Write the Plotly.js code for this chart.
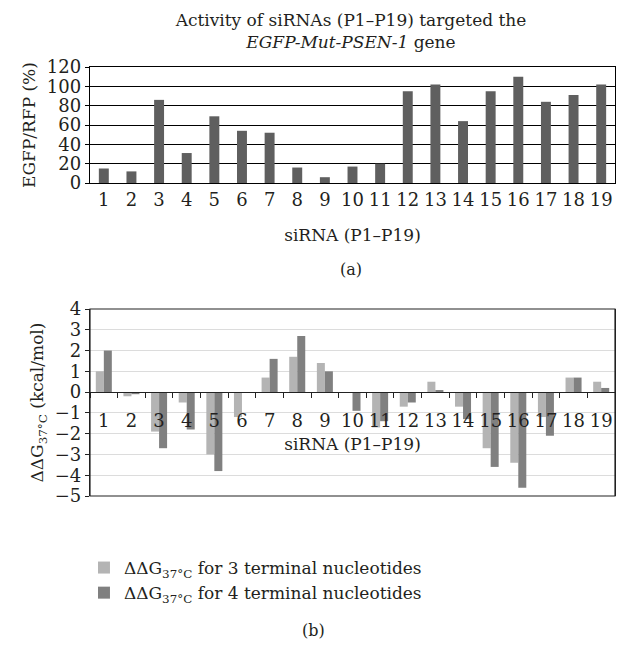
<!DOCTYPE html>
<html>
<head>
<meta charset="utf-8">
<script src="https://cdn.plot.ly/plotly-3.0.1.min.js"></script>
<style>html,body{margin:0;padding:0;background:#fff;}#chart{width:622px;height:646px;}</style>
</head>
<body>
<div id="chart"></div>
<script>
// ---- data ----
const categories = ['1','2','3','4','5','6','7','8','9','10','11','12','13','14','15','16','17','18','19'];
const egfpRfp = [15, 12, 86, 31, 69, 54, 52, 16, 6, 17, 20, 95, 102, 64, 95, 110, 84, 91, 102];
const dG3 = [1.0, -0.2, -1.9, -0.5, -3.0, -1.2, 0.7, 1.7, 1.4, 0, -1.7, -0.7, 0.5, -0.7, -2.7, -3.4, -1.2, 0.7, 0.5];
const dG4 = [2.0, -0.1, -2.7, -1.8, -3.8, 0, 1.6, 2.7, 1.0, -0.9, -1.4, -0.5, 0.1, -1.3, -3.6, -4.6, -2.1, 0.7, 0.2];
const topTicks = [0, 20, 40, 60, 80, 100, 120];
const bottomTicks = [-5, -4, -3, -2, -1, 0, 1, 2, 3, 4];

const W = 622, H = 646;
const serif = 'DejaVu Serif, Liberation Serif, serif';
const xDom = [90 / W, 615 / W];
const topDom = [1 - 183 / H, 1 - 67 / H];
const botDom = [1 - 496 / H, 1 - 309 / H];
const zeroPos = botDom[0] + (5 / 9) * (botDom[1] - botDom[0]);

const traces = [
  {type: 'bar', x: categories, y: egfpRfp, xaxis: 'x', yaxis: 'y', width: 0.36,
   marker: {color: '#5f5f5f'}, showlegend: false},
  {type: 'bar', x: categories, y: dG3, xaxis: 'x2', yaxis: 'y2',
   name: 'ΔΔG<sub>37°C</sub> for 3 terminal nucleotides', marker: {color: '#b4b4b4'}},
  {type: 'bar', x: categories, y: dG4, xaxis: 'x2', yaxis: 'y2',
   name: 'ΔΔG<sub>37°C</sub> for 4 terminal nucleotides', marker: {color: '#808080'}}
];

const layout = {
  width: W, height: H,
  margin: {l: 0, r: 0, t: 0, b: 0},
  paper_bgcolor: '#fff', plot_bgcolor: '#fff',
  font: {family: serif, size: 17, color: '#231f20'},
  barmode: 'group', bargap: 0.42, bargroupgap: 0,
  title: {text: 'Activity of siRNAs (P1–P19) targeted the<br><i>EGFP-Mut-PSEN-1</i> gene',
          x: 351 / W, xanchor: 'center', xref: 'paper', y: 1 - 26 / H, yanchor: 'middle', yref: 'container',
          font: {family: serif, size: 17, color: '#231f20'}},
  xaxis: {domain: xDom, anchor: 'y', type: 'category', showline: true, linecolor: '#000', linewidth: 1.2,
          mirror: true, ticks: '', showgrid: false, tickfont: {size: 18}, tickangle: 0,
          title: {text: 'siRNA (P1–P19)', standoff: 20, font: {size: 17}}},
  yaxis: {domain: topDom, anchor: 'x', range: [0, 120], tickvals: topTicks, showline: true, linecolor: '#000',
          linewidth: 1.2, mirror: true, showgrid: true, gridcolor: '#000', gridwidth: 1, ticks: 'outside',
          ticklen: 4, tickcolor: '#000', tickfont: {size: 18}, zeroline: false,
          title: {text: 'EGFP/RFP (%)', standoff: 6, font: {size: 17}}},
  xaxis2: {domain: xDom, anchor: 'free', position: zeroPos, type: 'category', showline: true, linecolor: '#222',
           linewidth: 1.2, ticks: 'outside', tickson: 'boundaries', ticklen: 5, tickcolor: '#222',
           showgrid: false, tickfont: {size: 18}, tickangle: 0, ticklabelstandoff: 12,
           title: {text: 'siRNA (P1–P19)', standoff: 8, font: {size: 17}}},
  yaxis2: {domain: botDom, anchor: 'x2', range: [-5, 4], tickvals: bottomTicks,
           ticktext: bottomTicks.map(v => v < 0 ? '−' + Math.abs(v) : String(v)),
           showline: true, linecolor: '#222', linewidth: 1.2, mirror: true, showgrid: true, gridcolor: '#dcdcdc',
           ticks: 'outside', ticklen: 4, tickcolor: '#222', tickfont: {size: 18}, zeroline: false,
           title: {text: 'ΔΔG<sub>37°C</sub> (kcal/mol)', standoff: 6, font: {size: 17}}},
  shapes: [
    {type: 'rect', xref: 'x2 domain', yref: 'y2 domain', x0: 0, x1: 1, y0: 0, y1: 1,
     line: {color: '#222', width: 1.2}, fillcolor: 'rgba(0,0,0,0)', layer: 'above'}
  ],
  legend: {x: 0.135, xanchor: 'left', y: 1 - 550 / H, yanchor: 'top', orientation: 'v',
           bgcolor: 'rgba(0,0,0,0)', font: {size: 17}, traceorder: 'normal', tracegroupgap: 0},
  annotations: [
    {text: '(a)', xref: 'paper', yref: 'paper', x: 351 / W, y: 1 - 270 / H, xanchor: 'center', yanchor: 'middle',
     showarrow: false, font: {size: 16}},
    {text: '(b)', xref: 'paper', yref: 'paper', x: 313 / W, y: 1 - 630 / H, xanchor: 'center', yanchor: 'middle',
     showarrow: false, font: {size: 16}}
  ]
};

Plotly.newPlot('chart', traces, layout, {displayModeBar: false, staticPlot: true});
</script>
</body>
</html>
